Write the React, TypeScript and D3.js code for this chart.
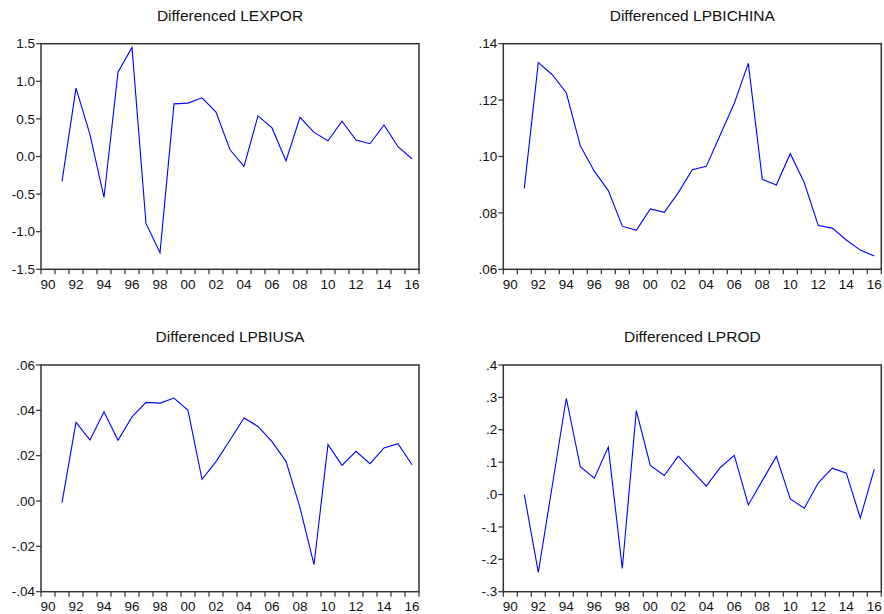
import React from "react";
import * as d3 from "d3";

const years = d3.range(1991, 2017);
const lexpor = [-0.33, 0.91, 0.29, -0.545, 1.12, 1.45, -0.89, -1.28, 0.70, 0.71, 0.78, 0.59, 0.09, -0.13, 0.54, 0.38, -0.06, 0.52, 0.32, 0.21, 0.47, 0.22, 0.17, 0.42, 0.13, -0.03];
const lpbichina = [0.0887, 0.1333, 0.1290, 0.1226, 0.1038, 0.0948, 0.0879, 0.0753, 0.0738, 0.0814, 0.0802, 0.0872, 0.0953, 0.0965, 0.1077, 0.1189, 0.1330, 0.0919, 0.0899, 0.1010, 0.0907, 0.0755, 0.0746, 0.0704, 0.0668, 0.0647];
const lpbiusa = [-0.0007, 0.0347, 0.0269, 0.0394, 0.0268, 0.0371, 0.0435, 0.0432, 0.0454, 0.0400, 0.0096, 0.0174, 0.0269, 0.0366, 0.0329, 0.0262, 0.0175, -0.0029, -0.0281, 0.0249, 0.0157, 0.0219, 0.0165, 0.0234, 0.0253, 0.0160];
const lprod = [0.000, -0.2406, 0.028, 0.2973, 0.0857, 0.0506, 0.1466, -0.2282, 0.2591, 0.0898, 0.0588, 0.1187, 0.072, 0.0258, 0.0836, 0.1208, -0.032, 0.043, 0.1177, -0.0134, -0.0423, 0.0361, 0.0816, 0.0661, -0.0723, 0.0785];

const titles = ["Differenced LEXPOR", "Differenced LPBICHINA", "Differenced LPBIUSA", "Differenced LPROD"];
const yTicks1 = [-1.5, -1.0, -0.5, 0.0, 0.5, 1.0, 1.5];
const yTicks2 = [0.06, 0.08, 0.10, 0.12, 0.14];
const yTicks3 = [-0.04, -0.02, 0.0, 0.02, 0.04, 0.06];
const yTicks4 = [-0.3, -0.2, -0.1, 0.0, 0.1, 0.2, 0.3, 0.4];
const xLabelYears = d3.range(1990, 2017, 2);

const fmt1 = (v: number) => v.toFixed(1);
const fmtDot = (digits: number) => (v: number) => {
  const s = Math.abs(v).toFixed(digits).replace(/^0/, "");
  return (v < -1e-9 ? "-" : "") + s;
};

type PanelProps = {
  x0: number; x1: number; y0: number; y1: number;
  title: string; values: number[]; ticks: number[]; fmt: (v: number) => string;
};

const FONT = "'Liberation Sans', Arial, sans-serif";

function Panel({ x0, x1, y0, y1, title, values, ticks, fmt }: PanelProps) {
  const x = d3.scaleLinear().domain([1990, 2017]).range([x0, x1]);
  const y = d3.scaleLinear().domain([ticks[0], ticks[ticks.length - 1]]).range([y1, y0]);
  const line = d3.line<number>()
    .x((_, i) => x(years[i] + 0.5))
    .y((v) => y(v));
  const yearTicks = d3.range(1990, 2018);
  return (
    <g>
      <text x={(x0 + x1) / 2} y={y0 - 23} textAnchor="middle" fontFamily={FONT} fontSize={15.5} fill="#111">{title}</text>
      <rect x={x0} y={y0} width={x1 - x0} height={y1 - y0} fill="none" stroke="#333" strokeWidth={1.5} />
      {ticks.map((t) => (
        <g key={t}>
          <line x1={x0 - 5} x2={x0} y1={y(t)} y2={y(t)} stroke="#333" strokeWidth={1.2} />
          <text x={x0 - 6} y={y(t)} dy="0.35em" textAnchor="end" fontFamily={FONT} fontSize={13.5} fill="#111">{fmt(t)}</text>
        </g>
      ))}
      {yearTicks.map((yr) => (
        <line key={yr} x1={x(yr)} x2={x(yr)} y1={y1} y2={y1 + 5} stroke="#333" strokeWidth={1.2} />
      ))}
      {xLabelYears.map((yr) => (
        <text key={yr} x={x(yr + 0.5)} y={y1 + 19.5} textAnchor="middle" fontFamily={FONT} fontSize={13.5} fill="#111">{String(yr % 100).padStart(2, "0")}</text>
      ))}
      <path d={line(values) || ""} fill="none" stroke="#0000ff" strokeWidth={1.1} />
    </g>
  );
}

export default function App() {
  return (
    <svg width={884} height={614} style={{ position: "absolute", left: 0, top: 0, background: "#fff" }}>
      <rect x={0} y={0} width={884} height={614} fill="#fff" />
      <Panel x0={41} x1={419} y0={43.7} y1={269.3} title={titles[0]} values={lexpor} ticks={yTicks1} fmt={fmt1} />
      <Panel x0={503.3} x1={881.3} y0={43.7} y1={269.3} title={titles[1]} values={lpbichina} ticks={yTicks2} fmt={fmtDot(2)} />
      <Panel x0={41} x1={419} y0={365} y1={591.7} title={titles[2]} values={lpbiusa} ticks={yTicks3} fmt={fmtDot(2)} />
      <Panel x0={503.3} x1={881.3} y0={365} y1={591.7} title={titles[3]} values={lprod} ticks={yTicks4} fmt={fmtDot(1)} />
    </svg>
  );
}
